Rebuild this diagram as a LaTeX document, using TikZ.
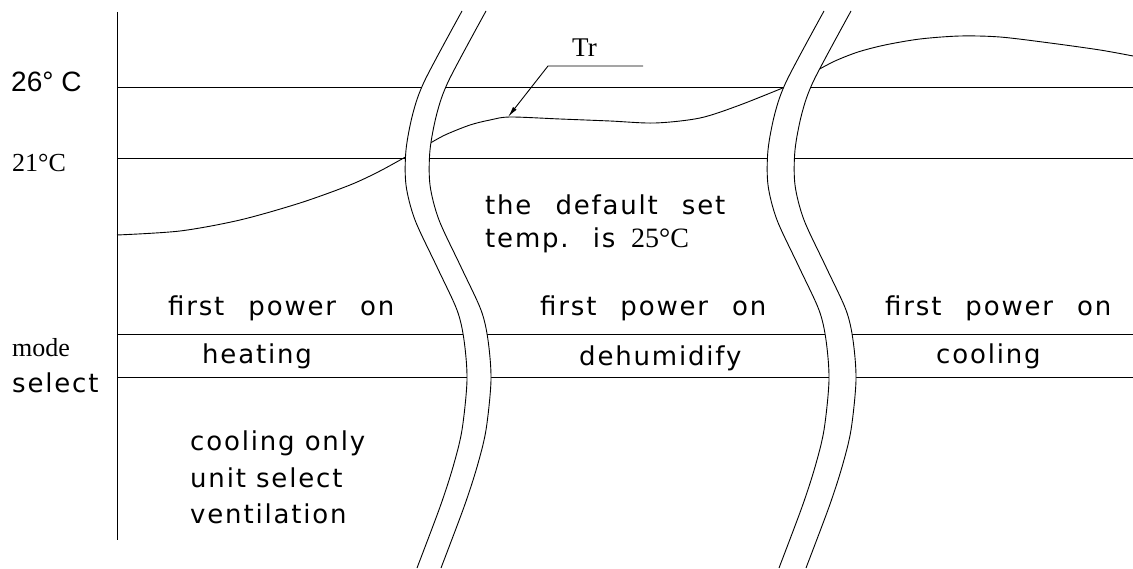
\documentclass[tikz,border=0pt]{standalone}
\usepackage{fontspec}
\usetikzlibrary{arrows.meta}
\newfontfamily\cadfont[LetterSpace=7]{DejaVu Sans}
\newfontfamily\arialfont{Liberation Sans}
\newfontfamily\serfont{Liberation Serif}
\newcommand\wsp{\hspace{24pt}}
\tikzset{
  ln/.style={line width=0.9pt, draw=black},
  cad/.style={font=\cadfont\fontsize{26}{30}\selectfont, inner sep=0pt, anchor=base west},
  ser/.style={font=\serfont\fontsize{26}{30}\selectfont, inner sep=0pt, anchor=base west},
  bandfill/.style={fill=white, draw=none},
}
\begin{document}
\begin{tikzpicture}[x=1pt,y=-1pt]
\useasboundingbox (0,0) rectangle (1133,569);
% axis and horizontal lines
\coordinate (axtop) at (117,12);
\coordinate (axbot) at (117,540);
\draw[ln] (axtop) -- (axbot);
\foreach \yy/\nm in {87/a,158/b,334/c,377/d}{
  \coordinate (h\nm L) at (117,\yy);
  \coordinate (h\nm R) at (1133,\yy);
  \draw[ln] (h\nm L) -- (h\nm R);
}
% Tr curve
\draw[ln] plot[smooth] coordinates {(117,235) (180,231) (240,220) (300,203) (350,185) (380,171) (409,155)};
\draw[ln] plot[smooth] coordinates {(427,145) (445,135) (470,125) (490,120) (510,117) (560,119) (610,121) (655,123) (700,118) (740,105) (790,85)};
\draw[ln] plot[smooth] coordinates {(816,71) (835,61) (858,52) (885,45) (920,39) (960,36) (1000,37) (1050,43) (1100,50) (1133,56)};
% band 1
\fill[bandfill] plot[smooth] coordinates {(462,11) (425,80) (413,113) (406,150) (406,185) (415,220) (437,267) (457,310) (464,340) (467,380) (462,430) (453,467) (440,507) (417,568)}
  -- plot[smooth] coordinates {(441,568) (464,507) (477,467) (486,430) (491,380) (488,340) (481,310) (461,267) (439,220) (430,185) (430,150) (437,113) (449,80) (486,11)} -- cycle;
\draw[ln] plot[smooth] coordinates {(462,11) (425,80) (413,113) (406,150) (406,185) (415,220) (437,267) (457,310) (464,340) (467,380) (462,430) (453,467) (440,507) (417,568)};
\draw[ln] plot[smooth] coordinates {(441,568) (464,507) (477,467) (486,430) (491,380) (488,340) (481,310) (461,267) (439,220) (430,185) (430,150) (437,113) (449,80) (486,11)};
% band 2
\fill[bandfill] plot[smooth] coordinates {(824,11) (787,80) (775,113) (768,150) (768,185) (777,220) (799,267) (819,310) (826,340) (829,380) (824,430) (815,467) (802,507) (779,568)}
  -- plot[smooth] coordinates {(806,568) (829,507) (842,467) (851,430) (856,380) (853,340) (846,310) (826,267) (804,220) (795,185) (795,150) (802,113) (814,80) (851,11)} -- cycle;
\draw[ln] plot[smooth] coordinates {(824,11) (787,80) (775,113) (768,150) (768,185) (777,220) (799,267) (819,310) (826,340) (829,380) (824,430) (815,467) (802,507) (779,568)};
\draw[ln] plot[smooth] coordinates {(806,568) (829,507) (842,467) (851,430) (856,380) (853,340) (846,310) (826,267) (804,220) (795,185) (795,150) (802,113) (814,80) (851,11)};
% Tr label and leader
\node[ser, font=\serfont\fontsize{27}{30}\selectfont] (tr) at (572,57) {Tr};
\coordinate (trend) at (643,66);
\coordinate (trknee) at (548,66);
\coordinate (trtip) at (508,117);
\draw[ln,-{Latex[length=11pt,width=4.5pt]}] (trend) -- (trknee) -- (trtip);
% left labels
\node[font=\arialfont\fontsize{28}{32}\selectfont, inner sep=0pt, anchor=base west] (t26) at (11,92) {26° C};
\node[ser] (t21) at (12,172) {21°C};
\node[ser] (tmode) at (12,357) {mode};
\node[cad] (tselect) at (12,392) {select};
% texts
\node[cad] (def1) at (485,215) {the\wsp default\wsp set};
\node[cad] (def2) at (485,248) {temp.\wsp is};
\node[ser, font=\serfont\fontsize{28}{30}\selectfont] (def3) at (631,248) {25°C};
\node[cad] (fp1) at (168,316) {first\wsp power\wsp on};
\node[cad] (fp2) at (540,316) {first\wsp power\wsp on};
\node[cad] (fp3) at (885,316) {first\wsp power\wsp on};
\node[cad] (heat) at (202,363) {heating};
\node[cad] (dehum) at (579,366) {dehumidify};
\node[cad] (cool) at (936,363) {cooling};
\node[cad] (co1) at (190,450) {cooling only};
\node[cad] (co2) at (190,487) {unit select};
\node[cad] (co3) at (190,523) {ventilation};
\end{tikzpicture}
\end{document}
